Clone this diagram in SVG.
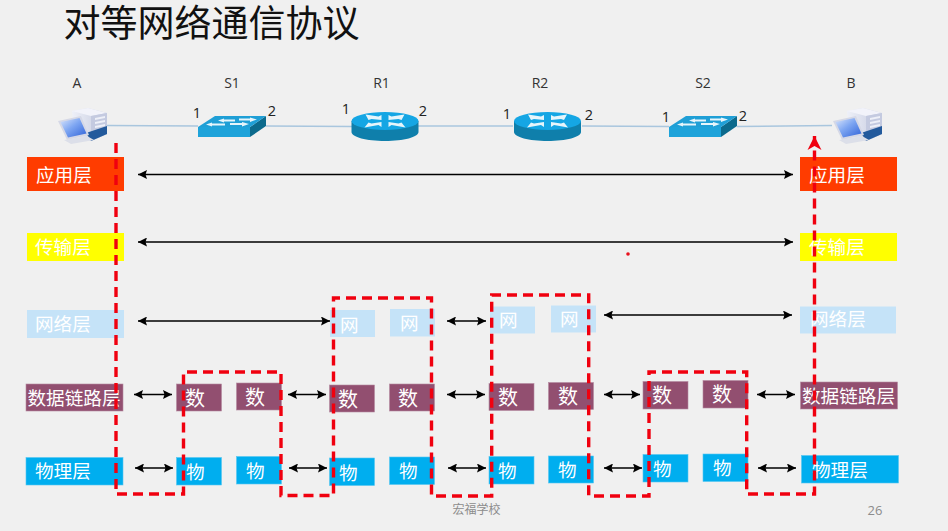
<svg xmlns="http://www.w3.org/2000/svg" width="948" height="531" viewBox="0 0 948 531">
<style>
text{font-family:"Noto Sans CJK SC","Noto Sans",sans-serif}
.app{fill:#ff3c00}.tra{fill:#ffff00}.net{fill:#c5e3f8}.dat{fill:#924f70;stroke:#b58aa0;stroke-width:.6}.phy{fill:#00aeef;stroke:#55c6f0;stroke-width:.6}
.t{font-size:18.6px;fill:#fff}
.c{font-size:20px;fill:#fff}
.lbl{font-family:"Open Sans","Noto Sans",sans-serif;font-size:14px;fill:#333;text-anchor:middle}
.port{font-family:"Open Sans","Noto Sans",sans-serif;font-size:14.500px;fill:#222;text-anchor:middle}
.arr{stroke:#000;stroke-width:1.3;fill:none;marker-start:url(#ah);marker-end:url(#ah)}
.link{stroke:#a9c6de;stroke-width:1.4;fill:none}
.swTop{fill:#1f9fd6}.swFront{fill:#1ea3da}.swSide{fill:#0c6a8c}
.rtSide{fill:#0f7fab}.rtTop{fill:#15a6e4}
.wh{fill:#e6f5fb}
</style>
<defs>
<linearGradient id="scr" x1="0" y1="0" x2="1" y2="1"><stop offset="0" stop-color="#dbe6fb"/><stop offset=".45" stop-color="#7ea6f2"/><stop offset="1" stop-color="#2f62d8"/></linearGradient>
<linearGradient id="tow" x1="0" y1="0" x2="1" y2="0"><stop offset="0" stop-color="#eef0f8"/><stop offset="1" stop-color="#c3c9de"/></linearGradient>
<marker id="ah" markerUnits="userSpaceOnUse" markerWidth="10" markerHeight="9" refX="9" refY="4.500" orient="auto-start-reverse"><path d="M0 0L9 4.500L0 9L1.500 4.500Z" fill="#000"/></marker>
<marker id="rh" markerUnits="userSpaceOnUse" markerWidth="16" markerHeight="16" refX="14" refY="7.500" orient="auto"><path d="M0 .5L14 7.500L0 14.500L4 7.500Z" fill="#f0000f"/></marker>
<g id="sw">
<path class="swFront" d="M0 11H52V21H0Z"/><path class="swSide" d="M52 11L68 0V10L52 21Z"/><path class="swTop" d="M0 11L17 0H68L52 11Z"/>
<path class="wh" d="M8 8.500L14 6.500V7.500H27V9.500H14V10.500ZM20 4.500L26 2.500V3.500H37V5.500H26V6.500ZM32 7H44V6L51 8L44 10.500V9H32ZM41 2.500H52V1.500L59 3.500L52 6V4.500H41Z"/>
</g>
<g id="rt">
<path class="rtSide" d="M0 9V20C0 25 15 29 33.500 29S67 25 67 20V9Z"/>
<ellipse class="rtTop" cx="33.500" cy="9" rx="33.500" ry="9"/>
<path class="wh" d="M14 2.500L27 4.500L30 3L30 8L20 7L17 8ZM53 2.500L40 4.500L37 3L37 8L47 7L50 8ZM13 15.500L27 13L30 15L30 10L20 11.500L17 10.500ZM54 15.500L40 13L37 15L37 10L47 11.500L50 10.500Z"/>
</g>
<g id="pc">
<path d="M14 4L30 1L49 6V27L33 34L16 28Z" fill="url(#tow)"/>
<path d="M14 4L30 1L49 6L33 9Z" fill="#f2f3fa"/>
<path d="M33 9L49 6V27L33 34Z" fill="#c4cae0"/>
<path d="M37 11L47 9V11L37 13ZM37 15L47 13V15L37 17ZM37 19L47 17V19L37 21Z" fill="#eef0f8"/>
<path d="M28 26L49 19V27L33 34Z" fill="#235a9c"/>
<path d="M0 14L23 9L31 28L9 33Z" fill="#d5d8e6"/>
<path d="M2.500 15L21.500 11L28.500 26.500L10 30.500Z" fill="url(#scr)"/>
<path d="M6 33L29 29L36 33L13 37Z" fill="#dcdfe9"/>
</g>
</defs>
<rect width="948" height="531" fill="#f0f0f0"/>
<text x="63.500" y="36.500" font-size="37" fill="#111">对等网络通信协议</text>
<circle cx="628" cy="254" r="1.800" fill="#e8101c"/>
<text x="476.500" y="514" font-size="12" fill="#8c8c8c" text-anchor="middle">宏福学校</text>
<text x="875" y="515" style="font-family:'Open Sans',sans-serif" font-size="13" fill="#8c8c8c" text-anchor="middle">26</text>

<g id="connectors">
<path class="link" d="M107 125.500L198 126M266 126L352 126.500M418 126L513 126M582 126L669 126.500M737 126.500L832 125.500"/>
<path class="arr" d="M138 174.500H793"/>
<path class="arr" d="M138 242H793"/>
<path class="arr" d="M138 321H330"/>
<path class="arr" d="M447 321H486"/>
<path class="arr" d="M604 315H792"/>
<path class="arr" d="M134 394.500H172"/>
<path class="arr" d="M288 394.500H326"/>
<path class="arr" d="M447 394.500H485"/>
<path class="arr" d="M604 394.500H640"/>
<path class="arr" d="M757 394.500H795"/>
<path class="arr" d="M135 468H173"/>
<path class="arr" d="M289 468H327"/>
<path class="arr" d="M448 468H486"/>
<path class="arr" d="M604 468H642"/>
<path class="arr" d="M758 468H796"/>
</g>

<g id="A"><text class="lbl" x="77" y="87.500">A</text><use href="#pc" x="58" y="107"/></g>
<g id="S1"><text class="lbl" x="232" y="87.500">S1</text><text class="port" x="197" y="118">1</text><text class="port" x="272" y="116">2</text><use href="#sw" x="198" y="116"/></g>
<g id="R1"><text class="lbl" x="381.500" y="87.500">R1</text><text class="port" x="346" y="114">1</text><text class="port" x="423" y="116">2</text><use href="#rt" x="351.500" y="112"/></g>
<g id="R2"><text class="lbl" x="540" y="87.500">R2</text><text class="port" x="507" y="119">1</text><text class="port" x="589" y="120">2</text><use href="#rt" x="514" y="112"/></g>
<g id="S2"><text class="lbl" x="703" y="87.500">S2</text><text class="port" x="666" y="122">1</text><text class="port" x="743" y="121">2</text><use href="#sw" x="669" y="116"/></g>
<g id="B"><text class="lbl" x="851" y="87.500">B</text><use href="#pc" x="833" y="107"/></g>

<g id="host-A-layers">
<g id="a-app"><rect class="app" x="27" y="157" width="97" height="34"/><text class="t" x="36" y="182">应用层</text></g>
<g id="a-tra"><rect class="tra" x="27" y="233" width="97" height="28"/><text class="t" x="35" y="254">传输层</text></g>
<g id="a-net"><rect class="net" x="27" y="310" width="97" height="28"/><text class="t" x="35" y="331">网络层</text></g>
<g id="a-dat"><rect class="dat" x="26" y="384" width="97" height="27"/><text class="t" x="27.500" y="405">数据链路层</text></g>
<g id="a-phy"><rect class="phy" x="26" y="457.500" width="97" height="27.500"/><text class="t" x="35" y="478">物理层</text></g>
</g>
<g id="s1-layers">
<g id="s1-d1"><rect class="dat" x="176.500" y="384" width="45" height="27"/><text class="c" x="185" y="406">数</text></g>
<g id="s1-d2"><rect class="dat" x="236.500" y="383" width="45" height="27"/><text class="c" x="245" y="405">数</text></g>
<g id="s1-p1"><rect class="phy" x="176.500" y="457.500" width="45" height="27.500"/><text class="t" x="186" y="479">物</text></g>
<g id="s1-p2"><rect class="phy" x="236.500" y="456.500" width="45" height="27.500"/><text class="t" x="246" y="478">物</text></g>
</g>
<g id="r1-layers">
<g id="r1-n1"><rect class="net" x="330" y="310" width="45" height="27"/><text class="t" x="340" y="332">网</text></g>
<g id="r1-n2"><rect class="net" x="390" y="309" width="45" height="27.500"/><text class="t" x="400" y="330">网</text></g>
<g id="r1-d1"><rect class="dat" x="329.500" y="385" width="45" height="27"/><text class="c" x="338" y="407">数</text></g>
<g id="r1-d2"><rect class="dat" x="389.500" y="384" width="45" height="27"/><text class="c" x="398" y="406">数</text></g>
<g id="r1-p1"><rect class="phy" x="329.500" y="458" width="45" height="27.500"/><text class="t" x="339" y="480">物</text></g>
<g id="r1-p2"><rect class="phy" x="389.500" y="457" width="45" height="27.500"/><text class="t" x="399" y="478">物</text></g>
</g>
<g id="r2-layers">
<g id="r2-n1"><rect class="net" x="490" y="306.500" width="45" height="27"/><text class="t" x="499" y="327">网</text></g>
<g id="r2-n2"><rect class="net" x="551" y="305.500" width="45" height="27"/><text class="t" x="560" y="326">网</text></g>
<g id="r2-d1"><rect class="dat" x="489" y="383.500" width="45" height="27"/><text class="c" x="498" y="405">数</text></g>
<g id="r2-d2"><rect class="dat" x="548.500" y="382.500" width="45" height="27"/><text class="c" x="558" y="404">数</text></g>
<g id="r2-p1"><rect class="phy" x="489" y="456.500" width="45" height="27.500"/><text class="t" x="498" y="478">物</text></g>
<g id="r2-p2"><rect class="phy" x="548.500" y="456" width="45" height="27"/><text class="t" x="558" y="477">物</text></g>
</g>
<g id="s2-layers">
<g id="s2-d1"><rect class="dat" x="643" y="381.500" width="45" height="27.500"/><text class="c" x="652" y="403">数</text></g>
<g id="s2-d2"><rect class="dat" x="703" y="380.500" width="45" height="27.500"/><text class="c" x="712" y="402">数</text></g>
<g id="s2-p1"><rect class="phy" x="643" y="454.500" width="45" height="27.500"/><text class="t" x="653" y="476">物</text></g>
<g id="s2-p2"><rect class="phy" x="703" y="454" width="45" height="27.500"/><text class="t" x="713" y="475">物</text></g>
</g>
<g id="host-B-layers">
<g id="b-app"><rect class="app" x="800" y="157" width="97" height="34"/><text class="t" x="809" y="182">应用层</text></g>
<g id="b-tra"><rect class="tra" x="800" y="233" width="97" height="28"/><text class="t" x="809" y="254">传输层</text></g>
<g id="b-net"><rect class="net" x="800" y="306.500" width="96" height="27"/><text class="t" x="810" y="326">网络层</text></g>
<g id="b-dat"><rect class="dat" x="800.500" y="382" width="97" height="27"/><text class="t" x="802" y="403">数据链路层</text></g>
<g id="b-phy"><rect class="phy" x="801.500" y="455.500" width="97" height="27.500"/><text class="t" x="812" y="477">物理层</text></g>
</g>

<g id="path-overlay">
<path d="M116 143V494H183.500V372H281V495.500H333.500V298H431.500V496H491.700V295H588.700V496H649V372H746.700V494H814.500V136" fill="none" stroke="#f0000f" stroke-width="3.400" stroke-dasharray="10 6" marker-end="url(#rh)"/>
</g>
</svg>
